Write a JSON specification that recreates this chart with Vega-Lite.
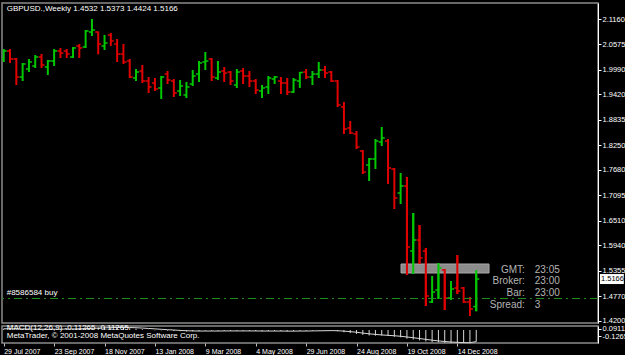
{
"$schema":"https://vega.github.io/schema/vega-lite/v6.json",
"background":"#000000",
"padding":{"left":0,"top":2,"right":0,"bottom":0},
"spacing":3,
"bounds":"flush",
"config":{
 "view":{"stroke":"#8a8a8a","strokeWidth":1.5},
 "font":"Liberation Sans",
 "axis":{"labelColor":"#ffffff","tickColor":"#ffffff","domainColor":"#ffffff","labelFontSize":7.5,"labelFont":"Liberation Sans","grid":false,"tickSize":3}
},
"datasets":{
"bars":[
{"date":"2007-07-29","o":2.0238,"h":2.0468,"l":2.0169,"c":2.0422},
{"date":"2007-08-05","o":2.0422,"h":2.0468,"l":2.0146,"c":2.0238},
{"date":"2007-08-12","o":2.0238,"h":2.0261,"l":1.9639,"c":1.9823},
{"date":"2007-08-19","o":1.9823,"h":2.0146,"l":1.9731,"c":2.0123},
{"date":"2007-08-26","o":2.0008,"h":2.0238,"l":1.9938,"c":2.0169},
{"date":"2007-09-02","o":2.0077,"h":2.0330,"l":2.0031,"c":2.0284},
{"date":"2007-09-09","o":2.0284,"h":2.0353,"l":2.0031,"c":2.0100},
{"date":"2007-09-16","o":2.0054,"h":2.0215,"l":1.9869,"c":2.0192},
{"date":"2007-09-23","o":2.0192,"h":2.0468,"l":2.0077,"c":2.0422},
{"date":"2007-09-30","o":2.0422,"h":2.0492,"l":2.0261,"c":2.0376},
{"date":"2007-10-07","o":2.0422,"h":2.0468,"l":2.0261,"c":2.0353},
{"date":"2007-10-14","o":2.0284,"h":2.0515,"l":2.0261,"c":2.0492},
{"date":"2007-10-21","o":2.0538,"h":2.0584,"l":2.0261,"c":2.0492},
{"date":"2007-10-28","o":2.0515,"h":2.0906,"l":2.0492,"c":2.0883},
{"date":"2007-11-04","o":2.0860,"h":2.1160,"l":2.0768,"c":2.0906},
{"date":"2007-11-11","o":2.0860,"h":2.0872,"l":2.0344,"c":2.0584},
{"date":"2007-11-18","o":2.0538,"h":2.0791,"l":2.0445,"c":2.0607},
{"date":"2007-11-25","o":2.0791,"h":2.0837,"l":2.0538,"c":2.0653},
{"date":"2007-12-02","o":2.0584,"h":2.0699,"l":2.0169,"c":2.0353},
{"date":"2007-12-09","o":2.0353,"h":2.0584,"l":2.0123,"c":2.0169},
{"date":"2007-12-16","o":2.0192,"h":2.0238,"l":1.9800,"c":1.9823},
{"date":"2007-12-23","o":1.9800,"h":2.0008,"l":1.9731,"c":1.9938},
{"date":"2007-12-30","o":1.9961,"h":2.0100,"l":1.9685,"c":1.9731},
{"date":"2008-01-06","o":1.9731,"h":1.9823,"l":1.9454,"c":1.9593},
{"date":"2008-01-13","o":1.9685,"h":1.9800,"l":1.9500,"c":1.9547},
{"date":"2008-01-20","o":1.9570,"h":1.9846,"l":1.9316,"c":1.9823},
{"date":"2008-01-27","o":1.9892,"h":1.9961,"l":1.9662,"c":1.9754},
{"date":"2008-02-03","o":1.9731,"h":1.9777,"l":1.9362,"c":1.9454},
{"date":"2008-02-10","o":1.9500,"h":1.9754,"l":1.9385,"c":1.9616},
{"date":"2008-02-17","o":1.9408,"h":1.9708,"l":1.9339,"c":1.9593},
{"date":"2008-02-24","o":1.9662,"h":1.9984,"l":1.9616,"c":1.9846},
{"date":"2008-03-02","o":1.9892,"h":2.0192,"l":1.9708,"c":2.0146},
{"date":"2008-03-09","o":2.0169,"h":2.0399,"l":1.9984,"c":2.0192},
{"date":"2008-03-16","o":2.0238,"h":2.0261,"l":1.9731,"c":1.9823},
{"date":"2008-03-23","o":1.9800,"h":2.0192,"l":1.9754,"c":1.9938},
{"date":"2008-03-30","o":1.9961,"h":2.0054,"l":1.9708,"c":1.9915},
{"date":"2008-04-06","o":1.9938,"h":1.9961,"l":1.9639,"c":1.9731},
{"date":"2008-04-13","o":1.9639,"h":2.0008,"l":1.9570,"c":1.9938},
{"date":"2008-04-20","o":1.9961,"h":2.0031,"l":1.9662,"c":1.9846},
{"date":"2008-04-27","o":1.9846,"h":1.9961,"l":1.9593,"c":1.9731},
{"date":"2008-05-04","o":1.9731,"h":1.9777,"l":1.9431,"c":1.9523},
{"date":"2008-05-11","o":1.9500,"h":1.9639,"l":1.9339,"c":1.9570},
{"date":"2008-05-18","o":1.9593,"h":1.9846,"l":1.9431,"c":1.9800},
{"date":"2008-05-25","o":1.9777,"h":1.9846,"l":1.9662,"c":1.9823},
{"date":"2008-06-01","o":1.9731,"h":1.9823,"l":1.9431,"c":1.9685},
{"date":"2008-06-08","o":1.9685,"h":1.9800,"l":1.9408,"c":1.9477},
{"date":"2008-06-15","o":1.9477,"h":1.9800,"l":1.9454,"c":1.9754},
{"date":"2008-06-22","o":1.9731,"h":1.9938,"l":1.9570,"c":1.9927},
{"date":"2008-06-29","o":1.9938,"h":2.0008,"l":1.9777,"c":1.9823},
{"date":"2008-07-06","o":1.9823,"h":1.9961,"l":1.9639,"c":1.9892},
{"date":"2008-07-13","o":1.9892,"h":2.0169,"l":1.9800,"c":1.9984},
{"date":"2008-07-20","o":1.9984,"h":2.0077,"l":1.9800,"c":1.9915},
{"date":"2008-07-27","o":1.9938,"h":1.9961,"l":1.9708,"c":1.9731},
{"date":"2008-08-03","o":1.9731,"h":1.9754,"l":1.9132,"c":1.9178},
{"date":"2008-08-10","o":1.9132,"h":1.9247,"l":1.8509,"c":1.8624},
{"date":"2008-08-17","o":1.8648,"h":1.8809,"l":1.8509,"c":1.8532},
{"date":"2008-08-24","o":1.8509,"h":1.8578,"l":1.8164,"c":1.8210},
{"date":"2008-08-31","o":1.8117,"h":1.8140,"l":1.7587,"c":1.7633},
{"date":"2008-09-07","o":1.7795,"h":1.7956,"l":1.7426,"c":1.7933},
{"date":"2008-09-14","o":1.7933,"h":1.8394,"l":1.7702,"c":1.8348},
{"date":"2008-09-21","o":1.8325,"h":1.8671,"l":1.8233,"c":1.8417},
{"date":"2008-09-28","o":1.8348,"h":1.8394,"l":1.7357,"c":1.7726},
{"date":"2008-10-05","o":1.7702,"h":1.7726,"l":1.6781,"c":1.7034},
{"date":"2008-10-12","o":1.7149,"h":1.7610,"l":1.6896,"c":1.7311},
{"date":"2008-10-19","o":1.7311,"h":1.7518,"l":1.5259,"c":1.5905},
{"date":"2008-10-26","o":1.5812,"h":1.6688,"l":1.5282,"c":1.6066},
{"date":"2008-11-02","o":1.6066,"h":1.6412,"l":1.5513,"c":1.5651},
{"date":"2008-11-09","o":1.5812,"h":1.5882,"l":1.4545,"c":1.4775},
{"date":"2008-11-16","o":1.4637,"h":1.5236,"l":1.4614,"c":1.4867},
{"date":"2008-11-23","o":1.4913,"h":1.5536,"l":1.4706,"c":1.5421},
{"date":"2008-11-30","o":1.5375,"h":1.5397,"l":1.4452,"c":1.4729},
{"date":"2008-12-07","o":1.4729,"h":1.5121,"l":1.4683,"c":1.4937},
{"date":"2008-12-14","o":1.4960,"h":1.5720,"l":1.4821,"c":1.4890},
{"date":"2008-12-21","o":1.4960,"h":1.4983,"l":1.4614,"c":1.4637},
{"date":"2008-12-28","o":1.4637,"h":1.4752,"l":1.4314,"c":1.4475},
{"date":"2009-01-04","o":1.4532,"h":1.5373,"l":1.4424,"c":1.5166}
],
"macd":[
{"date":"2007-07-29","hist":0.012,"sig":0.012},
{"date":"2007-08-05","hist":0.012,"sig":0.012},
{"date":"2007-08-12","hist":0.008,"sig":0.011},
{"date":"2007-08-19","hist":0.006,"sig":0.010},
{"date":"2007-08-26","hist":0.006,"sig":0.009},
{"date":"2007-09-02","hist":0.007,"sig":0.008},
{"date":"2007-09-09","hist":0.007,"sig":0.008},
{"date":"2007-09-16","hist":0.007,"sig":0.007},
{"date":"2007-09-23","hist":0.009,"sig":0.008},
{"date":"2007-09-30","hist":0.011,"sig":0.008},
{"date":"2007-10-07","hist":0.012,"sig":0.009},
{"date":"2007-10-14","hist":0.014,"sig":0.010},
{"date":"2007-10-21","hist":0.015,"sig":0.012},
{"date":"2007-10-28","hist":0.019,"sig":0.013},
{"date":"2007-11-04","hist":0.024,"sig":0.016},
{"date":"2007-11-11","hist":0.026,"sig":0.018},
{"date":"2007-11-18","hist":0.027,"sig":0.021},
{"date":"2007-11-25","hist":0.028,"sig":0.023},
{"date":"2007-12-02","hist":0.026,"sig":0.025},
{"date":"2007-12-09","hist":0.023,"sig":0.025},
{"date":"2007-12-16","hist":0.017,"sig":0.024},
{"date":"2007-12-23","hist":0.013,"sig":0.022},
{"date":"2007-12-30","hist":0.008,"sig":0.019},
{"date":"2008-01-06","hist":0.002,"sig":0.015},
{"date":"2008-01-13","hist":-0.003,"sig":0.011},
{"date":"2008-01-20","hist":-0.004,"sig":0.007},
{"date":"2008-01-27","hist":-0.006,"sig":0.003},
{"date":"2008-02-03","hist":-0.010,"sig":0.000},
{"date":"2008-02-10","hist":-0.012,"sig":-0.004},
{"date":"2008-02-17","hist":-0.014,"sig":-0.007},
{"date":"2008-02-24","hist":-0.013,"sig":-0.009},
{"date":"2008-03-02","hist":-0.010,"sig":-0.010},
{"date":"2008-03-09","hist":-0.007,"sig":-0.010},
{"date":"2008-03-16","hist":-0.008,"sig":-0.010},
{"date":"2008-03-23","hist":-0.008,"sig":-0.010},
{"date":"2008-03-30","hist":-0.008,"sig":-0.009},
{"date":"2008-04-06","hist":-0.009,"sig":-0.009},
{"date":"2008-04-13","hist":-0.008,"sig":-0.009},
{"date":"2008-04-20","hist":-0.008,"sig":-0.009},
{"date":"2008-04-27","hist":-0.009,"sig":-0.009},
{"date":"2008-05-04","hist":-0.011,"sig":-0.009},
{"date":"2008-05-11","hist":-0.012,"sig":-0.010},
{"date":"2008-05-18","hist":-0.011,"sig":-0.010},
{"date":"2008-05-25","hist":-0.010,"sig":-0.010},
{"date":"2008-06-01","hist":-0.010,"sig":-0.010},
{"date":"2008-06-08","hist":-0.012,"sig":-0.011},
{"date":"2008-06-15","hist":-0.011,"sig":-0.011},
{"date":"2008-06-22","hist":-0.009,"sig":-0.010},
{"date":"2008-06-29","hist":-0.008,"sig":-0.010},
{"date":"2008-07-06","hist":-0.007,"sig":-0.009},
{"date":"2008-07-13","hist":-0.005,"sig":-0.008},
{"date":"2008-07-20","hist":-0.005,"sig":-0.007},
{"date":"2008-07-27","hist":-0.006,"sig":-0.006},
{"date":"2008-08-03","hist":-0.012,"sig":-0.007},
{"date":"2008-08-10","hist":-0.022,"sig":-0.011},
{"date":"2008-08-17","hist":-0.030,"sig":-0.016},
{"date":"2008-08-24","hist":-0.038,"sig":-0.022},
{"date":"2008-08-31","hist":-0.048,"sig":-0.030},
{"date":"2008-09-07","hist":-0.053,"sig":-0.037},
{"date":"2008-09-14","hist":-0.055,"sig":-0.043},
{"date":"2008-09-21","hist":-0.054,"sig":-0.048},
{"date":"2008-09-28","hist":-0.058,"sig":-0.052},
{"date":"2008-10-05","hist":-0.066,"sig":-0.056},
{"date":"2008-10-12","hist":-0.071,"sig":-0.061},
{"date":"2008-10-19","hist":-0.085,"sig":-0.068},
{"date":"2008-10-26","hist":-0.093,"sig":-0.075},
{"date":"2008-11-02","hist":-0.101,"sig":-0.083},
{"date":"2008-11-09","hist":-0.112,"sig":-0.091},
{"date":"2008-11-16","hist":-0.118,"sig":-0.099},
{"date":"2008-11-23","hist":-0.120,"sig":-0.106},
{"date":"2008-11-30","hist":-0.124,"sig":-0.112},
{"date":"2008-12-07","hist":-0.126,"sig":-0.117},
{"date":"2008-12-14","hist":-0.1265,"sig":-0.120},
{"date":"2008-12-21","hist":-0.126,"sig":-0.123},
{"date":"2008-12-28","hist":-0.124,"sig":-0.124},
{"date":"2009-01-04","hist":-0.11265,"sig":-0.11265}
]
},
"vconcat":[
{
"width":596,"height":320,
"layer":[
{"data":{"name":"bars"},"mark":{"type":"rule","strokeWidth":2,"clip":true},
 "encoding":{
  "x":{"field":"date","type":"temporal","scale":{"type":"utc","domain":[{"year":2007,"month":7,"date":27,"hours":2,"utc":true},{"year":2009,"month":5,"date":19,"hours":7,"utc":true}]},"axis":null},
  "y":{"field":"h","type":"quantitative","scale":{"domain":[1.41528,2.15288],"nice":false,"zero":false},
   "axis":{"orient":"right","title":null,"values":[2.116,2.0575,1.999,1.942,1.8835,1.825,1.768,1.7095,1.651,1.594,1.5355,1.477,1.42],"format":".4f","labelPadding":1}},
  "y2":{"field":"l"},
  "color":{"condition":{"test":"datum.c >= datum.o","value":"#00c800"},"value":"#e00000"}}},
{"data":{"values":[{}]},"mark":{"type":"rect","fill":"#8c8c8c","stroke":"#a8a8a8","strokeWidth":1},
 "encoding":{
  "x":{"datum":{"year":2008,"month":10,"date":12,"hours":10,"utc":true},"type":"temporal","axis":null},
  "x2":{"datum":{"year":2009,"month":1,"date":18,"hours":5,"utc":true}},
  "y":{"datum":1.5513,"type":"quantitative","axis":{"orient":"right","title":null,"values":[2.116,2.0575,1.999,1.942,1.8835,1.825,1.768,1.7095,1.651,1.594,1.5355,1.477,1.42],"format":".4f","labelPadding":1}},
  "y2":{"datum":1.5305}}},
{"data":{"name":"bars"},"transform":[{"filter":"datum.h >= 1.5305 && datum.l <= 1.5513"}],"mark":{"type":"rule","strokeWidth":2,"clip":true},
 "encoding":{
  "x":{"field":"date","type":"temporal","axis":null},
  "y":{"field":"h","type":"quantitative","axis":{"orient":"right","title":null,"values":[2.116,2.0575,1.999,1.942,1.8835,1.825,1.768,1.7095,1.651,1.594,1.5355,1.477,1.42],"format":".4f","labelPadding":1}},
  "y2":{"field":"l"},
  "color":{"condition":{"test":"datum.c >= datum.o","value":"#00c800"},"value":"#e00000"}}},
{"data":{"name":"bars"},"mark":{"type":"rule","strokeWidth":1.5,"xOffset":-3,"x2Offset":0,"clip":true},
 "encoding":{
  "x":{"field":"date","type":"temporal","axis":null},
  "x2":{"field":"date"},
  "y":{"field":"o","type":"quantitative","axis":{"orient":"right","title":null,"values":[2.116,2.0575,1.999,1.942,1.8835,1.825,1.768,1.7095,1.651,1.594,1.5355,1.477,1.42],"format":".4f","labelPadding":1}},
  "color":{"condition":{"test":"datum.c >= datum.o","value":"#00c800"},"value":"#e00000"}}},
{"data":{"name":"bars"},"mark":{"type":"rule","strokeWidth":1.5,"xOffset":0,"x2Offset":3,"clip":true},
 "encoding":{
  "x":{"field":"date","type":"temporal","axis":null},
  "x2":{"field":"date"},
  "y":{"field":"c","type":"quantitative","axis":{"orient":"right","title":null,"values":[2.116,2.0575,1.999,1.942,1.8835,1.825,1.768,1.7095,1.651,1.594,1.5355,1.477,1.42],"format":".4f","labelPadding":1}},
  "color":{"condition":{"test":"datum.c >= datum.o","value":"#00c800"},"value":"#e00000"}}},
{"data":{"values":[{}]},"mark":{"type":"rule","color":"#1f8f1f","strokeWidth":1,"strokeDash":[8,4,2,4]},
 "encoding":{"y":{"datum":1.4718,"type":"quantitative","axis":{"orient":"right","title":null,"values":[2.116,2.0575,1.999,1.942,1.8835,1.825,1.768,1.7095,1.651,1.594,1.5355,1.477,1.42],"format":".4f","labelPadding":1}}}},
{"data":{"values":[{}]},"mark":{"type":"text","text":"#8586584 buy","align":"left","baseline":"bottom","dx":3,"dy":-1,"color":"#ffffff","fontSize":8},
 "encoding":{"x":{"datum":{"year":2007,"month":7,"date":29,"utc":true},"type":"temporal","axis":null},"y":{"datum":1.4718,"type":"quantitative","axis":{"orient":"right","title":null,"values":[2.116,2.0575,1.999,1.942,1.8835,1.825,1.768,1.7095,1.651,1.594,1.5355,1.477,1.42],"format":".4f","labelPadding":1}}}},
{"data":{"values":[{}]},"mark":{"type":"text","text":"GBPUSD.,Weekly  1.4532 1.5373 1.4424 1.5166","align":"left","baseline":"middle","dx":3,"color":"#ffffff","fontSize":8},
 "encoding":{"x":{"datum":{"year":2007,"month":7,"date":29,"utc":true},"type":"temporal","axis":null},"y":{"datum":2.139,"type":"quantitative","axis":{"orient":"right","title":null,"values":[2.116,2.0575,1.999,1.942,1.8835,1.825,1.768,1.7095,1.651,1.594,1.5355,1.477,1.42],"format":".4f","labelPadding":1}}}},
{"data":{"values":[{}]},"mark":{"type":"text","text":["GMT:","Broker:","Bar:","Spread:"],"align":"right","baseline":"top","lineHeight":11.7,"color":"#b4b4b4","fontSize":10},
 "encoding":{"x":{"datum":{"year":2009,"month":2,"date":27,"utc":true},"type":"temporal","axis":null},"y":{"datum":1.5497,"type":"quantitative","axis":{"orient":"right","title":null,"values":[2.116,2.0575,1.999,1.942,1.8835,1.825,1.768,1.7095,1.651,1.594,1.5355,1.477,1.42],"format":".4f","labelPadding":1}}}},
{"data":{"values":[{}]},"mark":{"type":"text","text":["23:05","23:00","23:00","3"],"align":"left","baseline":"top","lineHeight":11.7,"color":"#b4b4b4","fontSize":10},
 "encoding":{"x":{"datum":{"year":2009,"month":3,"date":10,"utc":true},"type":"temporal","axis":null},"y":{"datum":1.5497,"type":"quantitative","axis":{"orient":"right","title":null,"values":[2.116,2.0575,1.999,1.942,1.8835,1.825,1.768,1.7095,1.651,1.594,1.5355,1.477,1.42],"format":".4f","labelPadding":1}}}},
{"data":{"values":[{}]},"mark":{"type":"rect","fill":"#ffffff"},
 "encoding":{
  "x":{"datum":{"year":2009,"month":5,"date":21,"hours":12,"utc":true},"type":"temporal","axis":null},
  "x2":{"datum":{"year":2009,"month":6,"date":17,"utc":true}},
  "y":{"datum":1.5281,"type":"quantitative","axis":{"orient":"right","title":null,"values":[2.116,2.0575,1.999,1.942,1.8835,1.825,1.768,1.7095,1.651,1.594,1.5355,1.477,1.42],"format":".4f","labelPadding":1}},
  "y2":{"datum":1.5051}}},
{"data":{"values":[{}]},"mark":{"type":"text","text":"1.5166","align":"left","baseline":"middle","dx":1,"color":"#000000","fontSize":7.5},
 "encoding":{"x":{"datum":{"year":2009,"month":5,"date":21,"hours":12,"utc":true},"type":"temporal","axis":null},"y":{"datum":1.5166,"type":"quantitative","axis":{"orient":"right","title":null,"values":[2.116,2.0575,1.999,1.942,1.8835,1.825,1.768,1.7095,1.651,1.594,1.5355,1.477,1.42],"format":".4f","labelPadding":1}}}}
]
},
{
"width":596,"height":17,
"layer":[
{"data":{"name":"macd"},"mark":{"type":"rule","color":"#d8d8d8","strokeWidth":1},
 "encoding":{
  "x":{"field":"date","type":"temporal","scale":{"type":"utc","domain":[{"year":2007,"month":7,"date":27,"hours":2,"utc":true},{"year":2009,"month":5,"date":19,"hours":7,"utc":true}]},
   "axis":{"orient":"bottom","title":null,"values":[{"year":2007,"month":7,"date":29,"utc":true},{"year":2007,"month":9,"date":23,"utc":true},{"year":2007,"month":11,"date":18,"utc":true},{"year":2008,"month":1,"date":13,"utc":true},{"year":2008,"month":3,"date":9,"utc":true},{"year":2008,"month":5,"date":4,"utc":true},{"year":2008,"month":6,"date":29,"utc":true},{"year":2008,"month":8,"date":24,"utc":true},{"year":2008,"month":10,"date":19,"utc":true},{"year":2008,"month":12,"date":14,"utc":true}],"format":"%-d %b %Y","labelAlign":"left","labelDx":1,"labelPadding":1,"labelFontSize":7,"tickColor":"#c0c0c0","domain":false,"labelOverlap":false,"labelFlush":false}},
  "y":{"field":"hist","type":"quantitative","scale":{"domain":[-0.12654,0.039],"nice":false,"zero":false},
   "axis":{"orient":"right","title":null,"values":[0.0098,-0.0584],"labelExpr":"datum.value > 0 ? '0.09111' : '-0.12654'","labelPadding":1}},
  "y2":{"datum":0}}},
{"data":{"name":"macd"},"mark":{"type":"line","color":"#d8d8d8","strokeWidth":1},
 "encoding":{
  "x":{"field":"date","type":"temporal","axis":{"orient":"bottom","title":null,"values":[{"year":2007,"month":7,"date":29,"utc":true},{"year":2007,"month":9,"date":23,"utc":true},{"year":2007,"month":11,"date":18,"utc":true},{"year":2008,"month":1,"date":13,"utc":true},{"year":2008,"month":3,"date":9,"utc":true},{"year":2008,"month":5,"date":4,"utc":true},{"year":2008,"month":6,"date":29,"utc":true},{"year":2008,"month":8,"date":24,"utc":true},{"year":2008,"month":10,"date":19,"utc":true},{"year":2008,"month":12,"date":14,"utc":true}],"format":"%-d %b %Y","labelAlign":"left","labelDx":1,"labelPadding":1,"labelFontSize":7,"tickColor":"#c0c0c0","domain":false,"labelOverlap":false,"labelFlush":false}},
  "y":{"field":"sig","type":"quantitative","axis":{"orient":"right","title":null,"values":[0.0098,-0.0584],"labelExpr":"datum.value > 0 ? '0.09111' : '-0.12654'","labelPadding":1}}}},
{"data":{"values":[{}]},"mark":{"type":"text","text":"MACD(12,26,9) -0.11265 -0.11265","align":"left","baseline":"middle","dx":3,"color":"#ffffff","fontSize":8},
 "encoding":{"x":{"datum":{"year":2007,"month":7,"date":29,"utc":true},"type":"temporal","axis":{"orient":"bottom","title":null,"values":[{"year":2007,"month":7,"date":29,"utc":true},{"year":2007,"month":9,"date":23,"utc":true},{"year":2007,"month":11,"date":18,"utc":true},{"year":2008,"month":1,"date":13,"utc":true},{"year":2008,"month":3,"date":9,"utc":true},{"year":2008,"month":5,"date":4,"utc":true},{"year":2008,"month":6,"date":29,"utc":true},{"year":2008,"month":8,"date":24,"utc":true},{"year":2008,"month":10,"date":19,"utc":true},{"year":2008,"month":12,"date":14,"utc":true}],"format":"%-d %b %Y","labelAlign":"left","labelDx":1,"labelPadding":1,"labelFontSize":7,"tickColor":"#c0c0c0","domain":false,"labelOverlap":false,"labelFlush":false}},
  "y":{"datum":0.0195,"type":"quantitative","axis":{"orient":"right","title":null,"values":[0.0098,-0.0584],"labelExpr":"datum.value > 0 ? '0.09111' : '-0.12654'","labelPadding":1}}}},
{"data":{"values":[{}]},"mark":{"type":"text","text":"MetaTrader, © 2001-2008 MetaQuotes Software Corp.","align":"left","baseline":"middle","dx":3,"color":"#ffffff","fontSize":8},
 "encoding":{"x":{"datum":{"year":2007,"month":7,"date":29,"utc":true},"type":"temporal","axis":{"orient":"bottom","title":null,"values":[{"year":2007,"month":7,"date":29,"utc":true},{"year":2007,"month":9,"date":23,"utc":true},{"year":2007,"month":11,"date":18,"utc":true},{"year":2008,"month":1,"date":13,"utc":true},{"year":2008,"month":3,"date":9,"utc":true},{"year":2008,"month":5,"date":4,"utc":true},{"year":2008,"month":6,"date":29,"utc":true},{"year":2008,"month":8,"date":24,"utc":true},{"year":2008,"month":10,"date":19,"utc":true},{"year":2008,"month":12,"date":14,"utc":true}],"format":"%-d %b %Y","labelAlign":"left","labelDx":1,"labelPadding":1,"labelFontSize":7,"tickColor":"#c0c0c0","domain":false,"labelOverlap":false,"labelFlush":false}},
  "y":{"datum":-0.0584,"type":"quantitative","axis":{"orient":"right","title":null,"values":[0.0098,-0.0584],"labelExpr":"datum.value > 0 ? '0.09111' : '-0.12654'","labelPadding":1}}}}
]
}
]
}
